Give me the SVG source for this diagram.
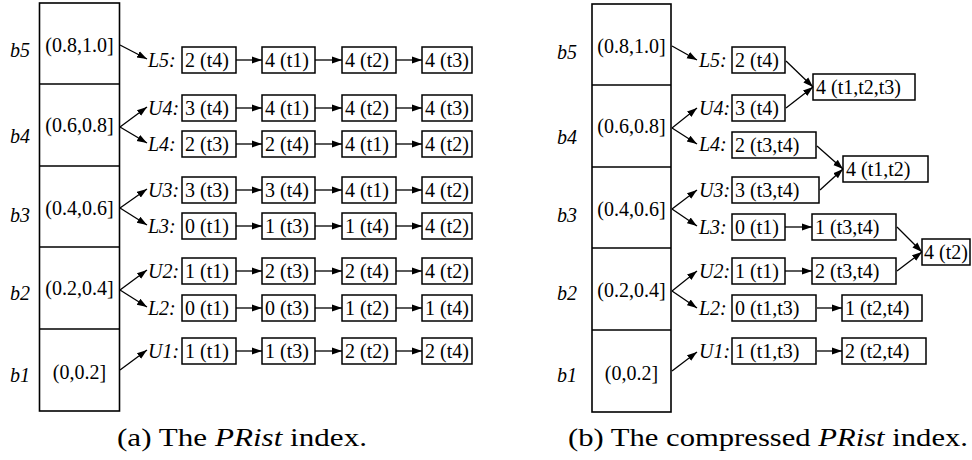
<svg xmlns="http://www.w3.org/2000/svg" width="972" height="460" viewBox="0 0 972 460">
<defs>
<marker id="ah" markerUnits="userSpaceOnUse" markerWidth="12" markerHeight="9" refX="10" refY="4.5" orient="auto">
<path d="M0,1 L10,4.5 L0,8 z" fill="#000"/>
</marker>
<style>
.col{fill:#fff;stroke:#000;stroke-width:1.6}
.sep{stroke:#000;stroke-width:1.6}
.box{fill:#fff;stroke:#000;stroke-width:1.5}
.t{font-family:"Liberation Serif","Times New Roman",serif;font-size:20px;fill:#000}
.c{text-anchor:middle}
.it{font-style:italic}
.arr{stroke:#000;stroke-width:1.3;fill:none;marker-end:url(#ah)}
.cap{font-family:"Liberation Serif","Times New Roman",serif;font-size:26px;fill:#000}
</style>
</defs>

<!-- Panel (a) -->
<g id="a-column">
<rect class="col" x="39.5" y="3" width="80" height="408"/>
<line class="sep" x1="39.5" y1="84" x2="119.5" y2="84"/>
<line class="sep" x1="39.5" y1="166" x2="119.5" y2="166"/>
<line class="sep" x1="39.5" y1="247" x2="119.5" y2="247"/>
<line class="sep" x1="39.5" y1="329" x2="119.5" y2="329"/>
</g>
<g id="a-b5"><text class="t it" x="10" y="57">b5</text><text class="t c" x="79.5" y="52">(0.8,1.0]</text></g>
<g id="a-b4"><text class="t it" x="10" y="143">b4</text><text class="t c" x="79.5" y="132">(0.6,0.8]</text></g>
<g id="a-b3"><text class="t it" x="10" y="222">b3</text><text class="t c" x="79.5" y="215">(0.4,0.6]</text></g>
<g id="a-b2"><text class="t it" x="10" y="300">b2</text><text class="t c" x="79.5" y="295">(0.2,0.4]</text></g>
<g id="a-b1"><text class="t it" x="10" y="382">b1</text><text class="t c" x="79.5" y="379">(0,0.2]</text></g>

<g id="a-L5">
<text class="t it" x="148" y="67">L5:</text>
<rect class="box" x="182" y="47" width="54" height="26"/><text class="t" x="185" y="67">2 (t4)</text>
<rect class="box" x="262" y="47" width="53" height="26"/><text class="t" x="265" y="67">4 (t1)</text>
<rect class="box" x="342" y="47" width="54" height="26"/><text class="t" x="345" y="67">4 (t2)</text>
<rect class="box" x="422" y="47" width="50" height="26"/><text class="t" x="425" y="67">4 (t3)</text>
</g>
<g id="a-U4">
<text class="t it" x="148" y="115">U4:</text>
<rect class="box" x="182" y="95" width="54" height="26"/><text class="t" x="185" y="115">3 (t4)</text>
<rect class="box" x="262" y="95" width="53" height="26"/><text class="t" x="265" y="115">4 (t1)</text>
<rect class="box" x="342" y="95" width="54" height="26"/><text class="t" x="345" y="115">4 (t2)</text>
<rect class="box" x="422" y="95" width="50" height="26"/><text class="t" x="425" y="115">4 (t3)</text>
</g>
<g id="a-L4">
<text class="t it" x="148" y="151">L4:</text>
<rect class="box" x="182" y="131" width="54" height="26"/><text class="t" x="185" y="151">2 (t3)</text>
<rect class="box" x="262" y="131" width="53" height="26"/><text class="t" x="265" y="151">2 (t4)</text>
<rect class="box" x="342" y="131" width="54" height="26"/><text class="t" x="345" y="151">4 (t1)</text>
<rect class="box" x="422" y="131" width="50" height="26"/><text class="t" x="425" y="151">4 (t2)</text>
</g>
<g id="a-U3">
<text class="t it" x="148" y="197">U3:</text>
<rect class="box" x="182" y="177" width="54" height="26"/><text class="t" x="185" y="197">3 (t3)</text>
<rect class="box" x="262" y="177" width="53" height="26"/><text class="t" x="265" y="197">3 (t4)</text>
<rect class="box" x="342" y="177" width="54" height="26"/><text class="t" x="345" y="197">4 (t1)</text>
<rect class="box" x="422" y="177" width="50" height="26"/><text class="t" x="425" y="197">4 (t2)</text>
</g>
<g id="a-L3">
<text class="t it" x="148" y="233">L3:</text>
<rect class="box" x="182" y="213" width="54" height="26"/><text class="t" x="185" y="233">0 (t1)</text>
<rect class="box" x="262" y="213" width="53" height="26"/><text class="t" x="265" y="233">1 (t3)</text>
<rect class="box" x="342" y="213" width="54" height="26"/><text class="t" x="345" y="233">1 (t4)</text>
<rect class="box" x="422" y="213" width="50" height="26"/><text class="t" x="425" y="233">4 (t2)</text>
</g>
<g id="a-U2">
<text class="t it" x="148" y="278">U2:</text>
<rect class="box" x="182" y="258" width="54" height="26"/><text class="t" x="185" y="278">1 (t1)</text>
<rect class="box" x="262" y="258" width="53" height="26"/><text class="t" x="265" y="278">2 (t3)</text>
<rect class="box" x="342" y="258" width="54" height="26"/><text class="t" x="345" y="278">2 (t4)</text>
<rect class="box" x="422" y="258" width="50" height="26"/><text class="t" x="425" y="278">4 (t2)</text>
</g>
<g id="a-L2">
<text class="t it" x="148" y="315">L2:</text>
<rect class="box" x="182" y="295" width="54" height="26"/><text class="t" x="185" y="315">0 (t1)</text>
<rect class="box" x="262" y="295" width="53" height="26"/><text class="t" x="265" y="315">0 (t3)</text>
<rect class="box" x="342" y="295" width="54" height="26"/><text class="t" x="345" y="315">1 (t2)</text>
<rect class="box" x="422" y="295" width="50" height="26"/><text class="t" x="425" y="315">1 (t4)</text>
</g>
<g id="a-U1">
<text class="t it" x="148" y="358">U1:</text>
<rect class="box" x="182" y="338" width="54" height="26"/><text class="t" x="185" y="358">1 (t1)</text>
<rect class="box" x="262" y="338" width="53" height="26"/><text class="t" x="265" y="358">1 (t3)</text>
<rect class="box" x="342" y="338" width="54" height="26"/><text class="t" x="345" y="358">2 (t2)</text>
<rect class="box" x="422" y="338" width="50" height="26"/><text class="t" x="425" y="358">2 (t4)</text>
</g>

<!-- Panel (b) -->
<g id="b-column">
<rect class="col" x="592" y="4" width="79" height="408"/>
<line class="sep" x1="592" y1="85" x2="671" y2="85"/>
<line class="sep" x1="592" y1="167" x2="671" y2="167"/>
<line class="sep" x1="592" y1="248" x2="671" y2="248"/>
<line class="sep" x1="592" y1="330" x2="671" y2="330"/>
</g>
<g id="b-b5"><text class="t it" x="557" y="59">b5</text><text class="t c" x="631.5" y="53">(0.8,1.0]</text></g>
<g id="b-b4"><text class="t it" x="557" y="144">b4</text><text class="t c" x="631.5" y="133">(0.6,0.8]</text></g>
<g id="b-b3"><text class="t it" x="557" y="222">b3</text><text class="t c" x="631.5" y="216">(0.4,0.6]</text></g>
<g id="b-b2"><text class="t it" x="557" y="300">b2</text><text class="t c" x="631.5" y="297">(0.2,0.4]</text></g>
<g id="b-b1"><text class="t it" x="557" y="382">b1</text><text class="t c" x="631.5" y="380">(0,0.2]</text></g>

<g id="b-L5"><text class="t it" x="699" y="67">L5:</text><rect class="box" x="732" y="47" width="53" height="26"/><text class="t" x="735" y="67">2 (t4)</text></g>
<g id="b-U4"><text class="t it" x="699" y="115">U4:</text><rect class="box" x="732" y="95" width="53" height="26"/><text class="t" x="735" y="115">3 (t4)</text></g>
<g id="b-n1"><rect class="box" x="813" y="74" width="102" height="26"/><text class="t" x="816" y="94">4 (t1,t2,t3)</text></g>
<g id="b-L4"><text class="t it" x="699" y="151">L4:</text><rect class="box" x="732" y="132" width="84" height="26"/><text class="t" x="735" y="152">2 (t3,t4)</text></g>
<g id="b-U3"><text class="t it" x="699" y="197">U3:</text><rect class="box" x="732" y="177" width="87" height="26"/><text class="t" x="735" y="197">3 (t3,t4)</text></g>
<g id="b-n2"><rect class="box" x="843" y="156" width="85" height="26"/><text class="t" x="846" y="176">4 (t1,t2)</text></g>
<g id="b-L3"><text class="t it" x="699" y="234">L3:</text><rect class="box" x="732" y="214" width="53" height="26"/><text class="t" x="735" y="234">0 (t1)</text>
<rect class="box" x="812" y="214" width="84" height="26"/><text class="t" x="815" y="234">1 (t3,t4)</text></g>
<g id="b-U2"><text class="t it" x="699" y="278">U2:</text><rect class="box" x="732" y="258" width="53" height="26"/><text class="t" x="735" y="278">1 (t1)</text>
<rect class="box" x="812" y="258" width="84" height="26"/><text class="t" x="815" y="278">2 (t3,t4)</text></g>
<g id="b-n3"><rect class="box" x="922" y="239" width="48" height="26"/><text class="t" x="924" y="259">4 (t2)</text></g>
<g id="b-L2"><text class="t it" x="699" y="315">L2:</text><rect class="box" x="732" y="295" width="84" height="26"/><text class="t" x="735" y="315">0 (t1,t3)</text>
<rect class="box" x="842" y="295" width="80" height="26"/><text class="t" x="845" y="315">1 (t2,t4)</text></g>
<g id="b-U1"><text class="t it" x="699" y="358">U1:</text><rect class="box" x="732" y="338" width="84" height="26"/><text class="t" x="735" y="358">1 (t1,t3)</text>
<rect class="box" x="842" y="338" width="84" height="26"/><text class="t" x="845" y="358">2 (t2,t4)</text></g>

<g id="connectors">
<!-- panel a: column to lists -->
<line class="arr" x1="120" y1="45" x2="147" y2="59"/>
<line class="arr" x1="120" y1="127" x2="147" y2="107"/>
<line class="arr" x1="120" y1="127" x2="147" y2="143"/>
<line class="arr" x1="120" y1="208" x2="147" y2="189"/>
<line class="arr" x1="120" y1="208" x2="147" y2="225"/>
<line class="arr" x1="120" y1="290" x2="147" y2="270"/>
<line class="arr" x1="120" y1="290" x2="147" y2="307"/>
<line class="arr" x1="120" y1="370" x2="147" y2="350"/>
<!-- panel a: chains -->
<line class="arr" x1="236" y1="60" x2="262" y2="60"/><line class="arr" x1="315" y1="60" x2="342" y2="60"/><line class="arr" x1="396" y1="60" x2="422" y2="60"/>
<line class="arr" x1="236" y1="108" x2="262" y2="108"/><line class="arr" x1="315" y1="108" x2="342" y2="108"/><line class="arr" x1="396" y1="108" x2="422" y2="108"/>
<line class="arr" x1="236" y1="144" x2="262" y2="144"/><line class="arr" x1="315" y1="144" x2="342" y2="144"/><line class="arr" x1="396" y1="144" x2="422" y2="144"/>
<line class="arr" x1="236" y1="190" x2="262" y2="190"/><line class="arr" x1="315" y1="190" x2="342" y2="190"/><line class="arr" x1="396" y1="190" x2="422" y2="190"/>
<line class="arr" x1="236" y1="226" x2="262" y2="226"/><line class="arr" x1="315" y1="226" x2="342" y2="226"/><line class="arr" x1="396" y1="226" x2="422" y2="226"/>
<line class="arr" x1="236" y1="271" x2="262" y2="271"/><line class="arr" x1="315" y1="271" x2="342" y2="271"/><line class="arr" x1="396" y1="271" x2="422" y2="271"/>
<line class="arr" x1="236" y1="308" x2="262" y2="308"/><line class="arr" x1="315" y1="308" x2="342" y2="308"/><line class="arr" x1="396" y1="308" x2="422" y2="308"/>
<line class="arr" x1="236" y1="351" x2="262" y2="351"/><line class="arr" x1="315" y1="351" x2="342" y2="351"/><line class="arr" x1="396" y1="351" x2="422" y2="351"/>
<!-- panel b: column to lists -->
<line class="arr" x1="672" y1="46" x2="697" y2="60"/>
<line class="arr" x1="672" y1="128" x2="697" y2="108"/>
<line class="arr" x1="672" y1="128" x2="697" y2="144"/>
<line class="arr" x1="672" y1="209" x2="697" y2="190"/>
<line class="arr" x1="672" y1="209" x2="697" y2="226"/>
<line class="arr" x1="672" y1="291" x2="697" y2="271"/>
<line class="arr" x1="672" y1="291" x2="697" y2="308"/>
<line class="arr" x1="672" y1="371" x2="697" y2="352"/>
<!-- panel b: chains -->
<line class="arr" x1="786" y1="61" x2="813" y2="87"/>
<line class="arr" x1="786" y1="108" x2="813" y2="87"/>
<line class="arr" x1="817" y1="146" x2="843" y2="169"/>
<line class="arr" x1="820" y1="190" x2="843" y2="169"/>
<line class="arr" x1="785" y1="227" x2="812" y2="227"/>
<line class="arr" x1="785" y1="271" x2="812" y2="271"/>
<line class="arr" x1="897" y1="227" x2="922" y2="252"/>
<line class="arr" x1="897" y1="271" x2="922" y2="252"/>
<line class="arr" x1="817" y1="308" x2="842" y2="308"/>
<line class="arr" x1="817" y1="351" x2="842" y2="351"/>
</g>

<text class="cap" x="117" y="446" textLength="250" lengthAdjust="spacingAndGlyphs">(a) The <tspan font-style="italic">PRist</tspan> index.</text>
<text class="cap" x="568" y="446" textLength="400" lengthAdjust="spacingAndGlyphs">(b) The compressed <tspan font-style="italic">PRist</tspan> index.</text>
</svg>
